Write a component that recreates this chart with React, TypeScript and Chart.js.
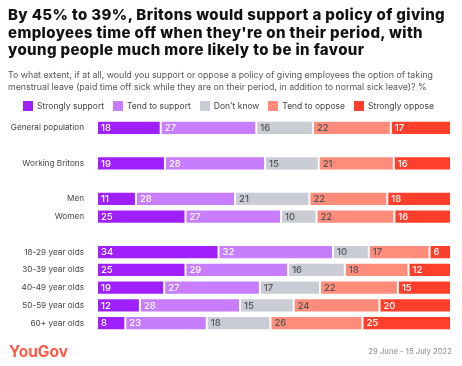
import React, { useEffect, useRef } from "react";
import { Chart, registerables } from "chart.js";

Chart.register(...registerables);

const categories = [
  "General population", "", "Working Britons", "", "Men", "Women", "",
  "18-29 year olds", "30-39 year olds", "40-49 year olds", "50-59 year olds", "60+ year olds",
];
const seriesNames = ["Strongly support", "Tend to support", "Don't know", "Tend to oppose", "Strongly oppose"];
const seriesColors = ["#a020fc", "#c77dfc", "#c9ccd5", "#ff8b7b", "#ff3f2b"];
const labelColors = ["#ffffff", "#ffffff", "#555555", "#555555", "#ffffff"];

const stronglySupport = [18, null, 19, null, 11, 25, null, 34, 25, 19, 12, 8];
const tendToSupport = [27, null, 28, null, 28, 27, null, 32, 29, 27, 28, 23];
const dontKnow = [16, null, 15, null, 21, 10, null, 10, 16, 17, 15, 18];
const tendToOppose = [22, null, 21, null, 22, 22, null, 17, 18, 22, 24, 26];
const stronglyOppose = [17, null, 16, null, 18, 16, null, 6, 12, 15, 20, 25];

const series = [stronglySupport, tendToSupport, dontKnow, tendToOppose, stronglyOppose];

const titleLines = [
  "By 45% to 39%, Britons would support a policy of giving",
  "employees time off when they're on their period, with",
  "young people much more likely to be in favour",
];
const subtitleLines = [
  "To what extent, if at all, would you support or oppose a policy of giving employees the option of taking",
  "menstrual leave (paid time off sick while they are on their period, in addition to normal sick leave)? %",
];

const FONT = "Inter, 'DejaVu Sans', sans-serif";

export default function App() {
  const ref = useRef<HTMLCanvasElement | null>(null);

  useEffect(() => {
    document.body.style.margin = "0";
    const totals = categories.map((_, i) =>
      series.reduce((s, arr) => s + (arr[i] ?? 0), 0)
    );
    const datasets = series.map((arr, k) => ({
      label: seriesNames[k],
      data: arr.map((v, i) => (v == null ? null : (v / totals[i]) * 100)),
      raw: arr,
      backgroundColor: seriesColors[k],
      borderColor: "rgba(255,255,255,0.35)",
      borderWidth: 1,
      borderSkipped: false,
      barPercentage: 0.79,
      categoryPercentage: 1,
    }));

    const valueLabels = {
      id: "valueLabels",
      afterDatasetsDraw(chart: any) {
        const ctx = chart.ctx;
        ctx.save();
        ctx.font = `500 9.5px ${FONT}`;
        ctx.textBaseline = "middle";
        ctx.textAlign = "left";
        chart.data.datasets.forEach((ds: any, k: number) => {
          const meta = chart.getDatasetMeta(k);
          meta.data.forEach((el: any, i: number) => {
            const v = ds.raw[i];
            if (v == null) return;
            const left = Math.min(el.base, el.x);
            ctx.fillStyle = labelColors[k];
            ctx.fillText(String(v), left + 4, el.y + 0.5);
          });
        });
        ctx.restore();
      },
    };

    const chart = new Chart(ref.current!, {
      type: "bar",
      data: { labels: categories, datasets: datasets as any },
      options: {
        animation: false,
        responsive: false,
        indexAxis: "y",
        layout: { padding: { top: 119, bottom: 34, left: 0, right: 11 } },
        plugins: { legend: { display: false }, tooltip: { enabled: false }, title: { display: false } },
        scales: {
          x: { stacked: true, min: 0, max: 100, display: false },
          y: {
            stacked: true,
            grid: { display: false },
            border: { display: false },
            ticks: { color: "#444", font: { family: FONT, size: 8.2 }, padding: 5, autoSkip: false },
            afterFit(scale: any) {
              scale.width = 97;
            },
          },
        },
      },
      plugins: [valueLabels],
    });
    return () => chart.destroy();
  }, []);

  return (
    <div style={{ position: "relative", width: 462, height: 366, background: "#fff", overflow: "hidden" }}>
      <canvas ref={ref} width={462} height={366} style={{ position: "absolute", left: 0, top: 0 }} />
      <div
        style={{
          position: "absolute", left: 8, top: 6, whiteSpace: "nowrap",
          fontFamily: FONT, fontWeight: 800, fontSize: 15, lineHeight: "17.5px", color: "#111",
          letterSpacing: 0.38,
        }}
      >
        {titleLines.map((l) => (
          <div key={l}>{l}</div>
        ))}
      </div>
      <div
        style={{
          position: "absolute", left: 8, top: 69, whiteSpace: "nowrap",
          fontFamily: FONT, fontSize: 8.8, lineHeight: "11.5px", color: "#555",
        }}
      >
        {subtitleLines.map((l) => (
          <div key={l}>{l}</div>
        ))}
      </div>
      <div
        style={{
          position: "absolute", left: 23, top: 100, display: "flex", gap: 9, whiteSpace: "nowrap",
          fontFamily: FONT, fontSize: 8.5, color: "#444", lineHeight: "12px",
        }}
      >
        {seriesNames.map((n, k) => (
          <div key={n} style={{ display: "flex", alignItems: "center", gap: 4 }}>
            <span style={{ width: 10, height: 10, background: seriesColors[k], display: "inline-block" }} />
            <span>{n}</span>
          </div>
        ))}
      </div>
      <div
        style={{
          position: "absolute", left: 9, top: 342, fontFamily: FONT, fontWeight: 700,
          fontSize: 15.5, color: "#ff5a45", letterSpacing: 0,
        }}
      >
        YouGov
      </div>
      <div
        style={{
          position: "absolute", right: 10, top: 347, fontFamily: FONT,
          fontSize: 7.7, color: "#888",
        }}
      >
        29 June - 15 July 2022
      </div>
    </div>
  );
}
